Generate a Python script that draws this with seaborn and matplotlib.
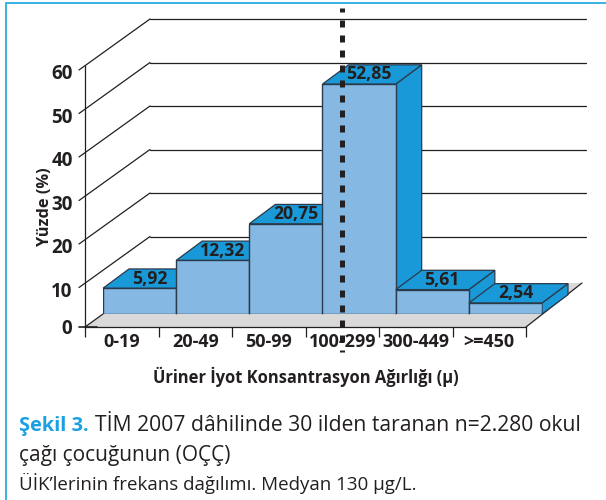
import matplotlib
matplotlib.use('Agg')
import matplotlib.pyplot as plt
import matplotlib.transforms as mtrans
from matplotlib.lines import Line2D
from matplotlib.patches import Polygon
import seaborn as sns
import pandas as pd

# Data
categories = ['0-19', '20-49', '50-99', '100-299', '300-449', '>=450']
values = [5.92, 12.32, 20.75, 52.85, 5.61, 2.54]
value_labels = ['5,92', '12,32', '20,75', '52,85', '5,61', '2,54']
y_ticks = [0, 10, 20, 30, 40, 50, 60]
median_category = 3

# Colours
front_col = '#85B8E3'
top_col = '#1A99D8'
floor_col = '#D9D9D9'
edge_col = '#2B3A4A'
text_col = '#231F20'
frame_col = '#29ABE2'
title_col = '#1BA1E2'

W, H = 606, 500

sns.set_theme(style='white')
plt.rcParams['font.family'] = ['Open Sans', 'DejaVu Sans']


def rect(left, right, bottom, top):
    # pixel box (y down) to figure fractions
    return [left / W, 1 - bottom / H, (right - left) / W, (bottom - top) / H]


fig = plt.figure(figsize=(W / 100, H / 100), dpi=100, facecolor='white')

# Axis box: front edge of the floor, 0-60 on the left
axis_box = rect(85, 526, 327, 66)
ax = fig.add_axes(axis_box, zorder=1)
ax.set_facecolor('none')
ax.set_xlim(-0.5, 5.5)
ax.set_ylim(0, 60)
px_x = 441 / 6
px_y = 261 / 60

# Floor and back wall
wall_dx = 65 / px_x
wall_dy = 47 / px_y
ax.add_patch(Polygon([(-0.5, 0), (5.5, 0), (5.5 + 56 / px_x, 44 / px_y), (-0.5 + wall_dx, 44 / px_y)],
                     closed=True, facecolor=floor_col, edgecolor='none', clip_on=False, zorder=1))
ax.plot([-0.5, -0.5 + 18 / px_x], [0, 13 / px_y], color=text_col, lw=0.9, clip_on=False, zorder=2)
ax.plot([5.5, 5.5 + 56 / px_x], [0, 44 / px_y], color=text_col, lw=0.9, clip_on=False, zorder=2)
for v in y_ticks[1:]:
    ax.plot([-0.5 - 6 / px_x, -0.5 + wall_dx], [v - 4 / px_y, v + wall_dy], color=text_col, lw=0.9,
            clip_on=False, zorder=2)
    ax.plot([-0.5 + wall_dx, 5.5 + 60 / px_x], [v + wall_dy, v + wall_dy], color=text_col, lw=0.9,
            clip_on=False, zorder=2)
ax.plot([-0.5 - 6 / px_x, -0.5 + 12 / px_x], [0, 0], color=text_col, lw=1.2, clip_on=False, zorder=3)

for side in ['top', 'right']:
    ax.spines[side].set_visible(False)
for side in ['left', 'bottom']:
    ax.spines[side].set_color(text_col)
    ax.spines[side].set_linewidth(0.9)

# Ticks sit on the bin edges, labels in the middle of the bins
ax.set_xticks([i - 0.5 for i in range(len(categories) + 1)])
ax.set_xticklabels([])
ax.set_xticks(range(len(categories)), categories, minor=True)
ax.tick_params(axis='x', which='major', length=7.5, width=0.9, color=text_col, bottom=True)
ax.tick_params(axis='x', which='minor', length=0, pad=4, labelsize=13, labelcolor=text_col, bottom=False)
for lab in ax.get_xticklabels(minor=True):
    lab.set_fontweight('bold')

ax.set_yticks(y_ticks)
ax.tick_params(axis='y', length=0, pad=9, labelsize=13.5, labelcolor=text_col, left=False)
for lab, v in zip(ax.get_yticklabels(), y_ticks):
    lab.set_fontweight('bold')
    if v > 0:
        lab.set_transform(lab.get_transform() + mtrans.ScaledTranslation(0, -4 / 72, fig.dpi_scale_trans))

ax.set_ylabel('Yüzde (%)', fontsize=11.8, fontweight='bold', color=text_col)
ax.yaxis.set_label_coords((53 - 85) / 441, (327 - 207) / 261)
ax.set_xlabel('Üriner İyot Konsantrasyon Ağırlığı (µ)', fontsize=11.9, fontweight='bold', color=text_col)
ax.xaxis.set_label_coords((306 - 85) / 441, (327 - 377) / 261, transform=ax.transAxes)
ax.xaxis.label.set_va('center')

# Bars on their own axes: front plane is set back from the axis
bar_x = 439 / 6
ax_bars = fig.add_axes(rect(103, 542, 314, 314 - 60 * px_y), zorder=2)
ax_bars.set_facecolor('none')
df = pd.DataFrame({'category': categories, 'value': values})
sns.barplot(data=df, x='category', y='value', order=categories, width=1, color=front_col, saturation=1,
            edgecolor=edge_col, linewidth=1, ax=ax_bars)
ax_bars.set_xlim(-0.5, 5.5)
ax_bars.set_ylim(0, 60)
ax_bars.axis('off')

dx = 26 / bar_x
dy = 19.3 / px_y
for i, bar in enumerate(ax_bars.patches):
    x0 = bar.get_x()
    x1 = x0 + bar.get_width()
    h = bar.get_height()
    bar.set_zorder(2 * i + 3)
    ax_bars.add_patch(Polygon([(x1, 0), (x1 + dx, dy), (x1 + dx, h + dy), (x1, h)], closed=True,
                              facecolor=top_col, edgecolor=edge_col, lw=0.9, clip_on=False, zorder=2 * i + 2))
    ax_bars.add_patch(Polygon([(x0, h), (x1, h), (x1 + dx, h + dy), (x0 + dx, h + dy)], closed=True,
                              facecolor=top_col, edgecolor=edge_col, lw=0.9, clip_on=False, zorder=2 * i + 2))
    ax_bars.text((x0 + x1) / 2 + dx / 2 - 3 / bar_x, h + dy / 2, value_labels[i], ha='center', va='center',
                 fontsize=12.7, fontweight='bold', color=text_col, zorder=30, clip_on=False)

# Median line over everything
ax_line = fig.add_axes(axis_box, zorder=3)
ax_line.set_facecolor('none')
ax_line.axis('off')
ax_line.set_xlim(-0.5, 5.5)
ax_line.set_ylim(0, 60)
ax_line.plot([median_category, median_category], [58 / px_y + 60, -25 / px_y], color=text_col, lw=3.6,
             linestyle=(0.6, (1.4, 1.6)), dash_capstyle='butt', clip_on=False)

# Frame
fig.add_artist(Line2D([6 / W, 6 / W, 1], [0, 1 - 3 / H, 1 - 3 / H], color=frame_col, lw=1.3))

# Caption
fig.text(19 / W, 1 - 431 / H, 'Şekil 3.', fontsize=14.4, fontweight='bold', color=title_col, va='baseline')
fig.text(95 / W, 1 - 431 / H, 'TİM 2007 dâhilinde 30 ilden taranan n=2.280 okul', fontsize=15.2,
         color=text_col, va='baseline')
fig.text(19 / W, 1 - 461 / H, 'çağı çocuğunun (OÇÇ)', fontsize=15, color=text_col, va='baseline')
fig.text(19 / W, 1 - 490 / H, 'ÜİK’lerinin frekans dağılımı. Medyan 130 µg/L.', fontsize=13.5, color=text_col,
         va='baseline')

fig.savefig('out.png', dpi=100)
